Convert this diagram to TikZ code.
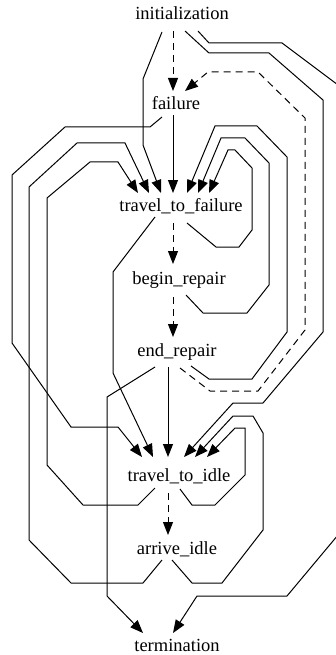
\documentclass[tikz,border=0pt]{standalone}
\usepackage{fontspec}
\setmainfont{Liberation Serif}
\usetikzlibrary{arrows.meta}
\tikzset{
  lbl/.style={font=\fontsize{18.5}{22}\selectfont, inner sep=0pt, anchor=base},
  edge/.style={line width=1pt, -{Triangle[length=13pt,width=10pt]}},
  dedge/.style={edge, dash pattern=on 7pt off 5pt}
}
\begin{document}
\begin{tikzpicture}[x=1pt,y=-1pt]
\useasboundingbox (0,0) rectangle (335,655);
\node[lbl] (init) at (182,20) {initialization};
\node[lbl] (fail) at (176,110) {failure};
\node[lbl] (ttf) at (181,211) {travel\_to\_failure};
\node[lbl] (br) at (179,284) {begin\_repair};
\node[lbl] (er) at (177,356) {end\_repair};
\node[lbl] (tti) at (179,481) {travel\_to\_idle};
\node[lbl] (ai) at (177,554) {arrive\_idle};
\node[lbl] (term) at (177,651) {termination};
% 1 init -> failure
\draw[dedge] ([shift={(-9,11)}]init.base) -- ([shift={(-3,-19)}]fail.base);
% 2 init -> ttf
\draw[edge] ([shift={(-20,12)}]init.base) -- (143,79) -- (143,145) -- ([shift={(-20,-18)}]ttf.base);
% 3 init -> tti
\draw[edge] ([shift={(3,11)}]init.base) -- (209,53) -- (269,53) -- (323,100) -- (323,332) -- (263,403) -- (233,403) -- ([shift={(5,-24)}]tti.base);
% 4 init -> termination
\draw[edge] ([shift={(16,11)}]init.base) -- (209,43) -- (282,43) -- (338,85) -- (338,535) -- (287,596) -- (197,596) -- ([shift={(-4,-18)}]term.base);
% 5 failure -> ttf
\draw[edge] ([shift={(-3,5)}]fail.base) -- ([shift={(-8,-18)}]ttf.base);
% 6 failure -> tti
\draw[edge] ([shift={(-14,7)}]fail.base) -- (150,127) -- (65,127) -- (12,175) -- (12,343) -- (71,427) -- (118,427) -- ([shift={(-37,-24)}]tti.base);
% 7 ttf -> begin_repair
\draw[dedge] ([shift={(-8,12)}]ttf.base) -- ([shift={(-6,-20)}]br.base);
% 8 ttf -> ttf
\draw[edge] ([shift={(6,12)}]ttf.base) -- (216,247) -- (239,247) -- (252,230) -- (252,168) -- (235,150) -- (228,150) -- ([shift={(28,-18)}]ttf.base);
% 9 ttf -> tti
\draw[edge] ([shift={(-26,6)}]ttf.base) -- (113,272) -- (113,373) -- ([shift={(-26,-24)}]tti.base);
% 10 begin_repair -> end_repair
\draw[dedge] ([shift={(-6,13)}]br.base) -- ([shift={(-4,-19)}]er.base);
% 11 begin_repair -> ttf
\draw[edge] ([shift={(7,11)}]br.base) -- (203,313) -- (247,313) -- (269,285) -- (269,163) -- (245,138) -- (221,138) -- ([shift={(17,-18)}]ttf.base);
% 12 end_repair -> tti
\draw[edge] ([shift={(-9,11)}]er.base) -- ([shift={(-11,-24)}]tti.base);
% 13 end_repair -> failure
\draw[dedge] ([shift={(3,12)}]er.base) -- (210,391) -- (258,391) -- (305,330) -- (305,118) -- (258,72) -- (208,72) -- ([shift={(9,-19)}]fail.base);
% 14 end_repair -> ttf
\draw[edge] ([shift={(14,10)}]er.base) -- (209,379) -- (252,379) -- (287,332) -- (287,157) -- (257,126) -- (215,126) -- ([shift={(6,-18)}]ttf.base);
% 15 end_repair -> termination
\draw[edge] ([shift={(-22,11)}]er.base) -- (107,397) -- (107,596) -- ([shift={(-34,-18)}]term.base);
% 16 tti -> arrive_idle
\draw[dedge] ([shift={(-11,12)}]tti.base) -- ([shift={(-9,-19)}]ai.base);
% 17 tti -> ttf
\draw[edge] ([shift={(-24,7)}]tti.base) -- (138,505) -- (83,505) -- (47,465) -- (47,198) -- (90,162) -- (118,162) -- ([shift={(-43,-18)}]ttf.base);
% 18 tti -> tti
\draw[edge] ([shift={(1,8)}]tti.base) -- (192,505) -- (215,505) -- (245,475) -- (245,428) -- (235,428) -- ([shift={(28,-24)}]tti.base);
% 19 arrive_idle -> ttf
\draw[edge] ([shift={(-15,6)}]ai.base) -- (143,583) -- (71,583) -- (29,540) -- (29,187) -- (77,143) -- (125,143) -- ([shift={(-32,-18)}]ttf.base);
% 20 arrive_idle -> tti
\draw[edge] ([shift={(-5,6)}]ai.base) -- (192,583) -- (222,583) -- (263,530) -- (263,433) -- (253,416) -- (233,416) -- ([shift={(16,-24)}]tti.base);
\end{tikzpicture}
\end{document}
